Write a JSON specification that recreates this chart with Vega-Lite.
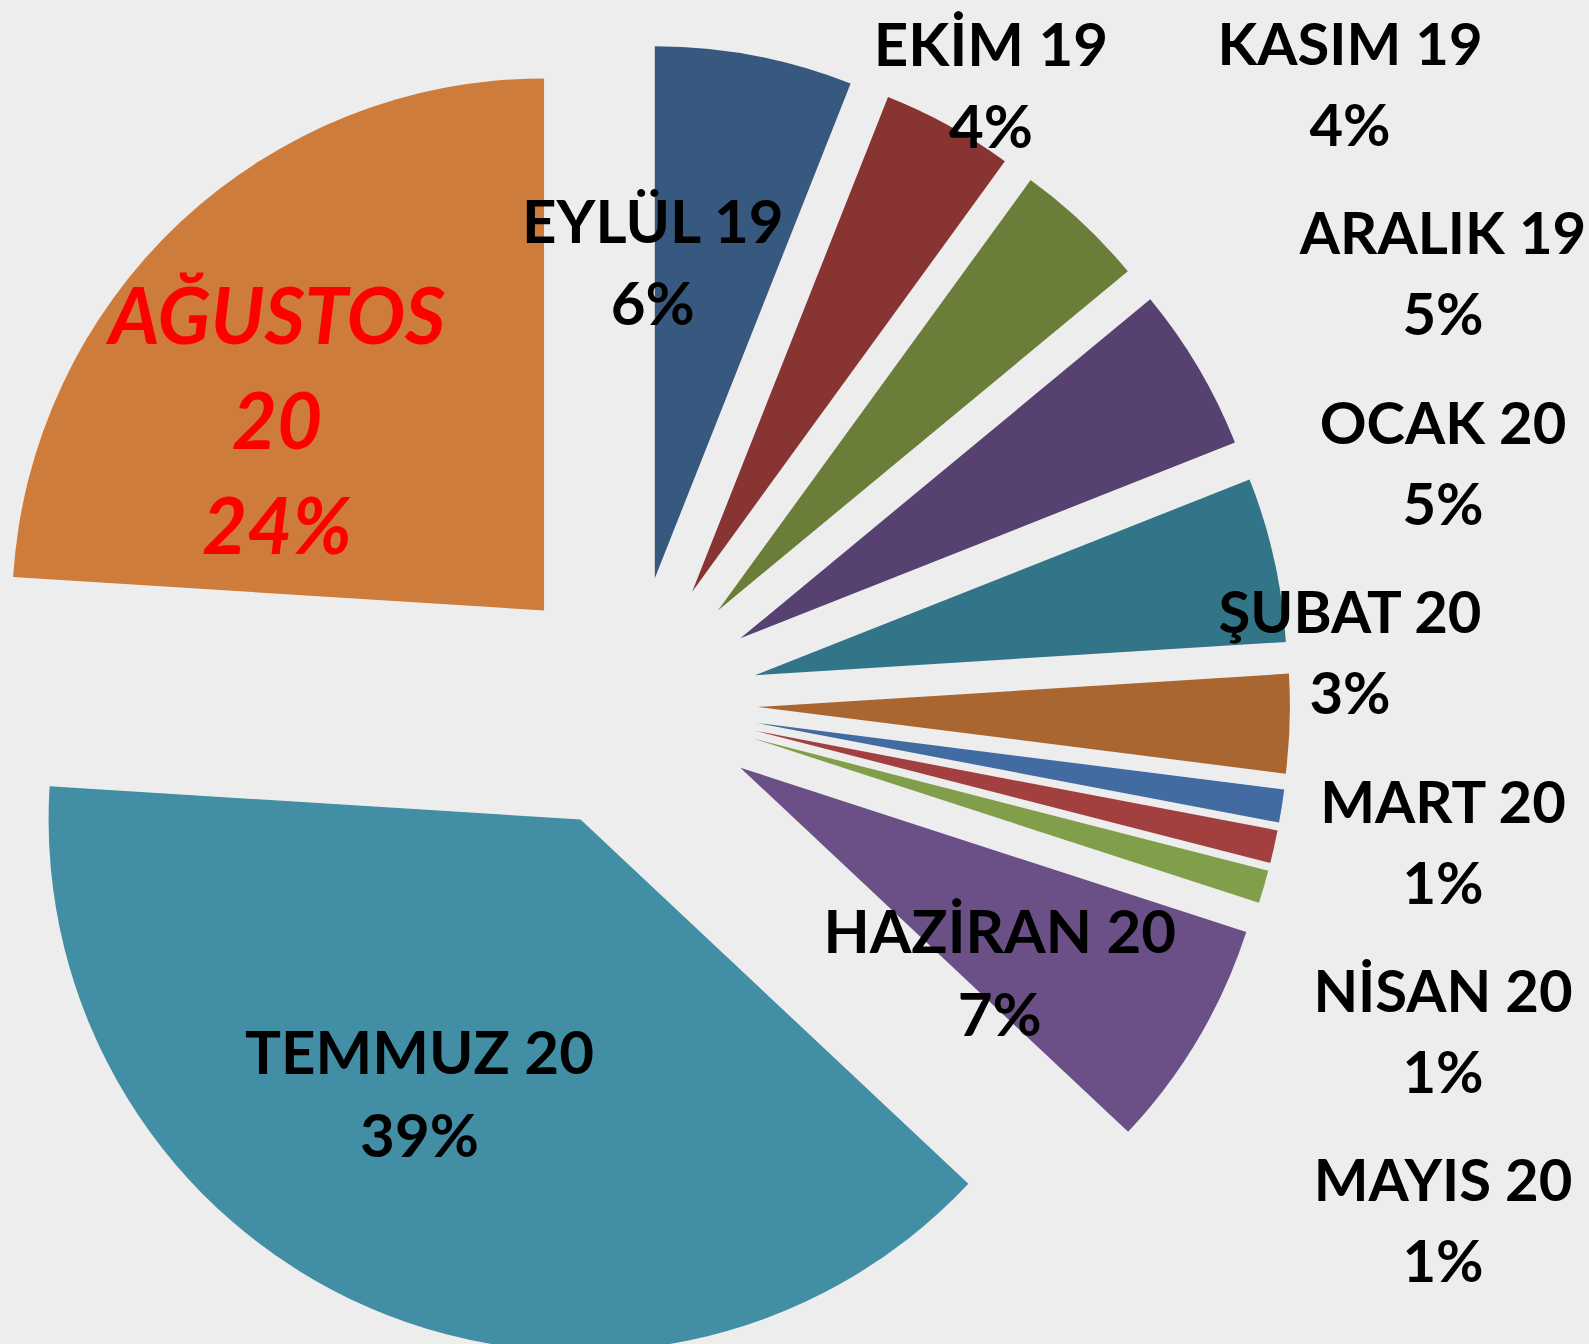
{
  "$schema": "https://vega.github.io/schema/vega-lite/v6.json",
  "width": 1589,
  "height": 1344,
  "padding": 0,
  "autosize": "none",
  "background": "#EDEDED",
  "config": {"view": {"stroke": null}, "text": {"font": "Lato", "fontWeight": "bold", "fontSize": 60, "color": "#000000", "align": "center", "baseline": "middle"}},
  "data": {"values": [
    {"month": "EYLÜL 19", "share": 0.06, "order": 1},
    {"month": "EKİM 19", "share": 0.04, "order": 2},
    {"month": "KASIM 19", "share": 0.04, "order": 3},
    {"month": "ARALIK 19", "share": 0.05, "order": 4},
    {"month": "OCAK 20", "share": 0.05, "order": 5},
    {"month": "ŞUBAT 20", "share": 0.03, "order": 6},
    {"month": "MART 20", "share": 0.01, "order": 7},
    {"month": "NİSAN 20", "share": 0.01, "order": 8},
    {"month": "MAYIS 20", "share": 0.01, "order": 9},
    {"month": "HAZİRAN 20", "share": 0.07, "order": 10},
    {"month": "TEMMUZ 20", "share": 0.39, "order": 11},
    {"month": "AĞUSTOS 20", "share": 0.24, "order": 12}
  ]},
  "transform": [
    {"stack": "share", "groupby": [], "sort": [{"field": "order", "order": "ascending"}], "offset": "normalize", "as": ["p0", "p1"]},
    {"calculate": "(datum.p0 + datum.p1) / 2", "as": "mid"},
    {"calculate": "sin(2 * PI * datum.mid)", "as": "ux"},
    {"calculate": "cos(2 * PI * datum.mid)", "as": "uy"}
  ],
  "layer": [
    {
      "mark": {"type": "arc", "radius": 532},
      "encoding": {
        "x": {"field": "ux", "type": "quantitative", "scale": {"domain": [-4.9685, 7.5433], "nice": false, "zero": false}, "axis": null},
        "y": {"field": "uy", "type": "quantitative", "scale": {"domain": [-5.0472, 5.5354], "nice": false, "zero": false}, "axis": null},
        "theta": {"field": "p0", "type": "quantitative", "scale": {"domain": [0, 1]}, "stack": null},
        "theta2": {"field": "p1"},
        "color": {"field": "month", "type": "nominal", "legend": null, "sort": null,
          "scale": {
            "domain": ["EYLÜL 19", "EKİM 19", "KASIM 19", "ARALIK 19", "OCAK 20", "ŞUBAT 20", "MART 20", "NİSAN 20", "MAYIS 20", "HAZİRAN 20", "TEMMUZ 20", "AĞUSTOS 20"],
            "range": ["#37597F", "#883432", "#6A7E3A", "#564170", "#327488", "#AA6630", "#416BA1", "#A2403F", "#819E4A", "#6A5087", "#428EA5", "#CE7C3C"]
          }
        }
      }
    },
    {
      "transform": [{"filter": {"field": "order", "equal": 1}}],
      "layer": [
        {"mark": {"type": "text", "radius": 320, "dx": -62, "dy": -39}, "encoding": {"text": {"field": "month", "type": "nominal"}}},
        {"mark": {"type": "text", "radius": 320, "dx": -62, "dy": 43}, "encoding": {"text": {"field": "share", "type": "quantitative", "format": ".0%"}}}
      ],
      "encoding": {
        "x": {"field": "ux", "type": "quantitative", "scale": {"domain": [-4.9685, 7.5433], "nice": false, "zero": false}, "axis": null},
        "y": {"field": "uy", "type": "quantitative", "scale": {"domain": [-5.0472, 5.5354], "nice": false, "zero": false}, "axis": null},
        "theta": {"field": "mid", "type": "quantitative", "scale": {"domain": [0, 1]}}
      }
    },
    {
      "transform": [{"filter": {"field": "order", "equal": 10}}],
      "layer": [
        {"mark": {"type": "text", "radius": 320, "dx": -16, "dy": 4}, "encoding": {"text": {"field": "month", "type": "nominal"}}},
        {"mark": {"type": "text", "radius": 320, "dx": -16, "dy": 87}, "encoding": {"text": {"field": "share", "type": "quantitative", "format": ".0%"}}}
      ],
      "encoding": {
        "x": {"field": "ux", "type": "quantitative", "scale": {"domain": [-4.9685, 7.5433], "nice": false, "zero": false}, "axis": null},
        "y": {"field": "uy", "type": "quantitative", "scale": {"domain": [-5.0472, 5.5354], "nice": false, "zero": false}, "axis": null},
        "theta": {"field": "mid", "type": "quantitative", "scale": {"domain": [0, 1]}}
      }
    },
    {
      "transform": [{"filter": {"field": "order", "equal": 11}}],
      "layer": [
        {"mark": {"type": "text", "radius": 320, "dx": -34, "dy": -57}, "encoding": {"text": {"field": "month", "type": "nominal"}}},
        {"mark": {"type": "text", "radius": 320, "dx": -34, "dy": 26}, "encoding": {"text": {"field": "share", "type": "quantitative", "format": ".0%"}}}
      ],
      "encoding": {
        "x": {"field": "ux", "type": "quantitative", "scale": {"domain": [-4.9685, 7.5433], "nice": false, "zero": false}, "axis": null},
        "y": {"field": "uy", "type": "quantitative", "scale": {"domain": [-5.0472, 5.5354], "nice": false, "zero": false}, "axis": null},
        "theta": {"field": "mid", "type": "quantitative", "scale": {"domain": [0, 1]}}
      }
    },
    {
      "transform": [{"filter": {"field": "order", "equal": 2}}],
      "layer": [
        {"mark": {"type": "text", "radius": 585, "dx": 17, "dy": -31}, "encoding": {"text": {"field": "month", "type": "nominal"}}},
        {"mark": {"type": "text", "radius": 585, "dx": 17, "dy": 51}, "encoding": {"text": {"field": "share", "type": "quantitative", "format": ".0%"}}}
      ],
      "encoding": {
        "x": {"field": "ux", "type": "quantitative", "scale": {"domain": [-4.9685, 7.5433], "nice": false, "zero": false}, "axis": null},
        "y": {"field": "uy", "type": "quantitative", "scale": {"domain": [-5.0472, 5.5354], "nice": false, "zero": false}, "axis": null},
        "theta": {"field": "mid", "type": "quantitative", "scale": {"domain": [0, 1]}}
      }
    },
    {
      "transform": [{"filter": {"field": "order", "equal": 12}}],
      "layer": [
        {"mark": {"type": "text", "radius": 320, "dx": -48, "dy": -56, "lineBreak": " ", "lineHeight": 105, "fontStyle": "italic", "fontSize": 78, "color": "#FF0000"}, "encoding": {"text": {"field": "month", "type": "nominal"}}},
        {"mark": {"type": "text", "radius": 320, "dx": -48, "dy": 154, "fontStyle": "italic", "fontSize": 78, "color": "#FF0000"}, "encoding": {"text": {"field": "share", "type": "quantitative", "format": ".0%"}}}
      ],
      "encoding": {
        "x": {"field": "ux", "type": "quantitative", "scale": {"domain": [-4.9685, 7.5433], "nice": false, "zero": false}, "axis": null},
        "y": {"field": "uy", "type": "quantitative", "scale": {"domain": [-5.0472, 5.5354], "nice": false, "zero": false}, "axis": null},
        "theta": {"field": "mid", "type": "quantitative", "scale": {"domain": [0, 1]}}
      }
    },
    {
      "transform": [{"filter": {"field": "order", "oneOf": [4, 5, 7, 8, 9]}}],
      "layer": [
        {"mark": {"type": "text", "x": 1443, "fontSize": 58}, "encoding": {"text": {"field": "month", "type": "nominal"}}},
        {"mark": {"type": "text", "x": 1443, "dy": 81, "fontSize": 58}, "encoding": {"text": {"field": "share", "type": "quantitative", "format": ".0%"}}}
      ],
      "encoding": {
        "y": {"field": "order", "type": "quantitative", "scale": {"domain": [2.7466, 9.8427], "reverse": true, "nice": false, "zero": false}, "axis": null}
      }
    },
    {
      "transform": [{"filter": {"field": "order", "oneOf": [3, 6]}}],
      "layer": [
        {"mark": {"type": "text", "x": 1350, "fontSize": 58}, "encoding": {"text": {"field": "month", "type": "nominal"}}},
        {"mark": {"type": "text", "x": 1350, "dy": 81, "fontSize": 58}, "encoding": {"text": {"field": "share", "type": "quantitative", "format": ".0%"}}}
      ],
      "encoding": {
        "y": {"field": "order", "type": "quantitative", "scale": {"domain": [2.7466, 9.8427], "reverse": true, "nice": false, "zero": false}, "axis": null}
      }
    }
  ],
  "resolve": {"scale": {"y": "independent"}}
}
